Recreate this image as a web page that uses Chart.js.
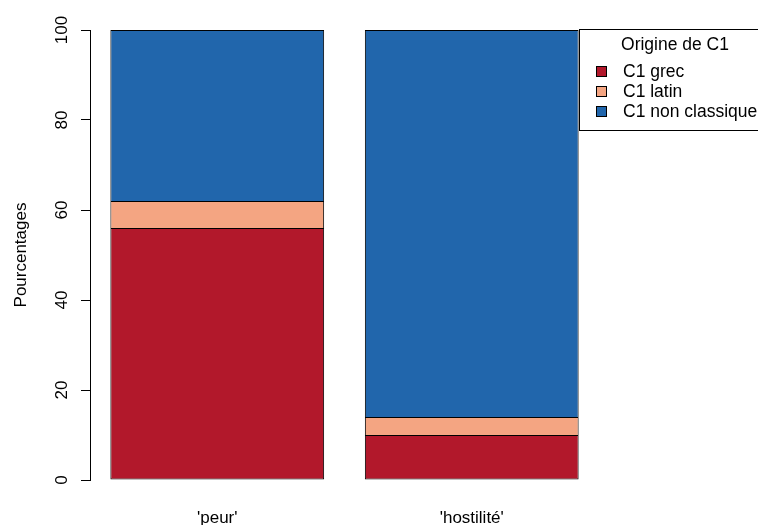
<!DOCTYPE html>
<html>
<head>
<meta charset="utf-8">
<script src="https://cdn.jsdelivr.net/npm/chart.js@4"></script>
<style>
  html, body { margin: 0; padding: 0; background: #fff; }
  #wrap { width: 758px; height: 525px; }
</style>
</head>
<body>
<div id="wrap"><canvas id="chart" width="758" height="525"></canvas></div>
<script>
// categories and series (percentages)
const categories = ["'peur'", "'hostilité'"];
const grec = [56, 10];
const latin = [6, 4];
const nonClassique = [38, 86];
const yTicks = [0, 20, 40, 60, 80, 100];

const FONT = 'Liberation Sans, Arial, sans-serif';
const FS = 17;

// R-style legend box drawn over the top right corner
const boxLegend = {
    id: 'boxLegend',
    afterDraw(chart) {
        const ctx = chart.ctx;
        const x0 = 579.5, y0 = 29.5;
        ctx.save();
        ctx.fillStyle = '#fff';
        ctx.fillRect(x0, y0, 190, 101);
        ctx.strokeStyle = '#000';
        ctx.lineWidth = 1;
        ctx.strokeRect(x0, y0, 190, 101);
        ctx.font = '17.5px ' + FONT;
        ctx.fillStyle = '#000';
        ctx.textAlign = 'center';
        ctx.textBaseline = 'middle';
        ctx.fillText('Origine de C1', 675, 45);
        ctx.textAlign = 'left';
        chart.data.datasets.forEach((ds, i) => {
            const y = 72 + i * 20;
            ctx.fillStyle = ds.backgroundColor;
            ctx.fillRect(596.5, y - 5.5, 10, 10);
            ctx.strokeStyle = '#000';
            ctx.strokeRect(596.5, y - 5.5, 10, 10);
            ctx.fillStyle = '#000';
            ctx.fillText(ds.label, 623, y);
        });
        ctx.restore();
    }
};

const barStyle = {
    borderColor: '#000',
    borderWidth: 1,
    categoryPercentage: 1,
    barPercentage: 0.84
};

new Chart(document.getElementById('chart'), {
    type: 'bar',
    data: {
        labels: categories,
        datasets: [
            Object.assign({ label: 'C1 grec', data: grec, backgroundColor: '#B2182B', borderSkipped: false }, barStyle),
            Object.assign({ label: 'C1 latin', data: latin, backgroundColor: '#F4A582', borderSkipped: 'bottom' }, barStyle),
            Object.assign({ label: 'C1 non classique', data: nonClassique, backgroundColor: '#2166AC', borderSkipped: 'bottom' }, barStyle)
        ]
    },
    options: {
        responsive: false,
        animation: false,
        layout: { padding: { top: 30, right: 159, left: 0, bottom: 0 } },
        plugins: {
            legend: { display: false },
            tooltip: { enabled: false }
        },
        scales: {
            x: {
                stacked: true,
                grid: { display: false },
                border: { display: false },
                ticks: { color: '#000', font: { family: FONT, size: FS }, padding: 20 },
                afterFit(scale) { scale.height = 45; }
            },
            y: {
                stacked: true,
                min: 0,
                max: 100,
                afterBuildTicks(scale) { scale.ticks = yTicks.map(v => ({ value: v })); },
                grid: { drawOnChartArea: false, tickLength: 9, color: '#000' },
                border: { display: true, color: '#000' },
                ticks: {
                    color: '#000',
                    font: { family: FONT, size: FS },
                    minRotation: 90,
                    maxRotation: 90,
                    crossAlign: 'center',
                    padding: 5
                },
                title: {
                    display: true,
                    text: 'Pourcentages',
                    color: '#000',
                    font: { family: FONT, size: FS },
                    padding: { top: 11, bottom: 0 }
                },
                afterFit(scale) { scale.width = 90; }
            }
        }
    },
    plugins: [boxLegend]
});
</script>
</body>
</html>
